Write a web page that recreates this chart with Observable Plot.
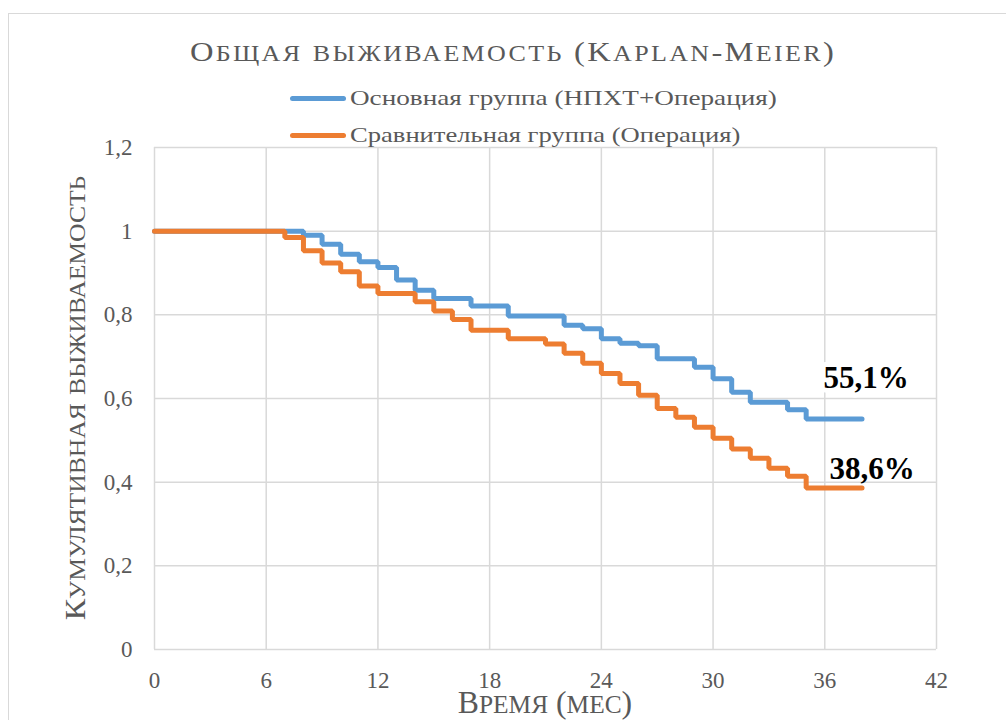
<!DOCTYPE html>
<html>
<head>
<meta charset="utf-8">
<script src="https://cdn.jsdelivr.net/npm/d3@7"></script>
<script src="https://cdn.jsdelivr.net/npm/@observablehq/plot@0.6"></script>
<style>
  html, body { margin: 0; padding: 0; background: #fff; overflow: hidden; }
  #wrap { position: relative; width: 1006px; height: 720px; overflow: hidden; font-family: "Liberation Serif", "Times New Roman", serif; color: #595959; }
  #frame { position: absolute; left: 8px; top: 13px; width: 1100px; height: 800px; border: 1px solid #d9d9d9; box-sizing: border-box; }
  #chart { position: absolute; left: 0; top: 0; }
  .ov { position: absolute; white-space: nowrap; line-height: 1; font-family: "Liberation Serif", "Times New Roman", serif; color: #595959; }
  .sc { text-transform: uppercase; font-size: 0.8em; }
  .title { left: 513px; top: 38px; font-size: 28px; letter-spacing: 2px; transform-origin: 50% 50%; }
  .legtext { left: 350px; font-size: 21px; transform-origin: 0 50%; }
  .sw { position: absolute; left: 290px; width: 56px; height: 5px; border-radius: 3px; }
  .ytitle { left: 75px; top: 398px; font-size: 29px; transform-origin: 50% 50%; }
  .xtitle { left: 545px; top: 691px; font-size: 31px; line-height: 0.75; transform-origin: 50% 50%; }
</style>
</head>
<body>
<div id="wrap">
  <div id="frame"></div>
  <div id="chart"></div>
</div>
<script>
// ---- data ----
const seriesNames = ["Основная группа (НПХТ+Операция)", "Сравнительная группа (Операция)"];
const seriesColors = ["#5b9bd5", "#ed7d31"];

const mainTimes = [0, 8, 9, 10, 11, 12, 13, 14, 15, 17, 19, 22, 23, 24, 25, 26, 27, 29, 30, 31, 32, 34, 35, 38];
const mainSurv  = [1.0, 0.99, 0.969, 0.945, 0.927, 0.913, 0.883, 0.859, 0.839, 0.821, 0.797, 0.775, 0.767, 0.743, 0.732, 0.726, 0.695, 0.675, 0.647, 0.615, 0.591, 0.573, 0.551, 0.551];

const compTimes = [0, 7, 8, 9, 10, 11, 12, 14, 15, 16, 17, 19, 21, 22, 23, 24, 25, 26, 27, 28, 29, 30, 31, 32, 33, 34, 35, 38];
const compSurv  = [1.0, 0.985, 0.953, 0.924, 0.903, 0.869, 0.851, 0.831, 0.809, 0.789, 0.763, 0.743, 0.730, 0.708, 0.684, 0.660, 0.636, 0.608, 0.576, 0.555, 0.531, 0.505, 0.479, 0.457, 0.433, 0.414, 0.386, 0.386];

const endLabels = ["55,1%", "38,6%"];

const xTicks = [0, 6, 12, 18, 24, 30, 36, 42];
const yTicks = [0, 0.2, 0.4, 0.6, 0.8, 1.0, 1.2];

const titleText = "Общая выживаемость (Kaplan-Meier)";
const xTitle = "Время (мес)";
const yTitle = "Кумулятивная выживаемость";

// ---- build ----
const main = mainTimes.map((t, i) => ({t, s: mainSurv[i]}));
const comp = compTimes.map((t, i) => ({t, s: compSurv[i]}));
const fmt = d => String(+d.toFixed(1)).replace(".", ",");

const mainEnd = [{t: mainTimes[mainTimes.length - 1], s: mainSurv[mainSurv.length - 1], label: endLabels[0]}];
const compEnd = [{t: compTimes[compTimes.length - 1], s: compSurv[compSurv.length - 1], label: endLabels[1]}];

const chart = Plot.plot({
  width: 1006,
  height: 720,
  marginLeft: 154,
  marginRight: 70,
  marginTop: 147,
  marginBottom: 71,
  style: { fontFamily: "'Liberation Serif', 'Times New Roman', serif", background: "transparent" },
  x: { domain: [0, 42], ticks: xTicks },
  y: { domain: [0, 1.2], ticks: yTicks },
  marks: [
    Plot.gridX(xTicks, { stroke: "#d9d9d9", strokeOpacity: 1, strokeWidth: 1.5 }),
    Plot.gridY(yTicks, { stroke: "#d9d9d9", strokeOpacity: 1, strokeWidth: 1.5 }),
    Plot.axisX(xTicks, { tickSize: 0, tickPadding: 22, fontSize: 23, fill: "#595959", label: null, tickFormat: d => String(d) }),
    Plot.axisY(yTicks, { tickSize: 0, tickPadding: 22, fontSize: 23, fill: "#595959", label: null, tickFormat: fmt }),
    Plot.line(main, { x: "t", y: "s", curve: "step-after", stroke: seriesColors[0], strokeWidth: 5, strokeLinecap: "round", strokeLinejoin: "miter" }),
    Plot.line(comp, { x: "t", y: "s", curve: "step-after", stroke: seriesColors[1], strokeWidth: 5, strokeLinecap: "round", strokeLinejoin: "miter" }),
    Plot.text(mainEnd, { x: "t", y: "s", text: "label", dx: 4, dy: -41, fontSize: 31, fontWeight: "bold", fill: "#000", stroke: "white", strokeWidth: 10, textAnchor: "middle" }),
    Plot.text(compEnd, { x: "t", y: "s", text: "label", dx: 10, dy: -19, fontSize: 31, fontWeight: "bold", fill: "#000", textAnchor: "middle" })
  ]
});
document.getElementById("chart").appendChild(chart);

// ---- overlays: title, legend, axis titles ----
const wrap = document.getElementById("wrap");

// small caps: lowercase runs are shown uppercase at reduced size; DOM text unchanged
function smallCaps(el, text) {
  const re = /([^\p{Ll}]+|\p{Ll}+)/gu;
  for (const m of text.matchAll(re)) {
    const part = m[0];
    if (/\p{Ll}/u.test(part)) {
      const s = document.createElement("span");
      s.className = "sc"; s.textContent = part; el.appendChild(s);
    } else {
      el.appendChild(document.createTextNode(part));
    }
  }
}
function fit(el, base, target, rotate) {
  const w = el.offsetWidth;
  el.style.transform = base + (rotate ? " rotate(-90deg)" : "") + ` scaleX(${target / w})`;
}

const t = document.createElement("div");
t.className = "ov title"; smallCaps(t, titleText); wrap.appendChild(t);
fit(t, "translateX(-50%)", 646);

const legTops = [88, 125];
const legLineY = [96, 133];
const legWidths = [427, 390];
seriesNames.forEach((name, i) => {
  const sw = document.createElement("div");
  sw.className = "sw"; sw.style.top = legLineY[i] + "px"; sw.style.background = seriesColors[i];
  wrap.appendChild(sw);
  const tx = document.createElement("div");
  tx.className = "ov legtext"; tx.style.top = legTops[i] + "px"; tx.textContent = name;
  wrap.appendChild(tx);
  fit(tx, "", legWidths[i]);
});

const yt = document.createElement("div");
yt.className = "ov ytitle"; smallCaps(yt, yTitle); wrap.appendChild(yt);
fit(yt, "translate(-50%, -50%)", 445, true);

const xt = document.createElement("div");
xt.className = "ov xtitle"; smallCaps(xt, xTitle); wrap.appendChild(xt);
fit(xt, "translateX(-50%)", 174);
</script>
</body>
</html>
